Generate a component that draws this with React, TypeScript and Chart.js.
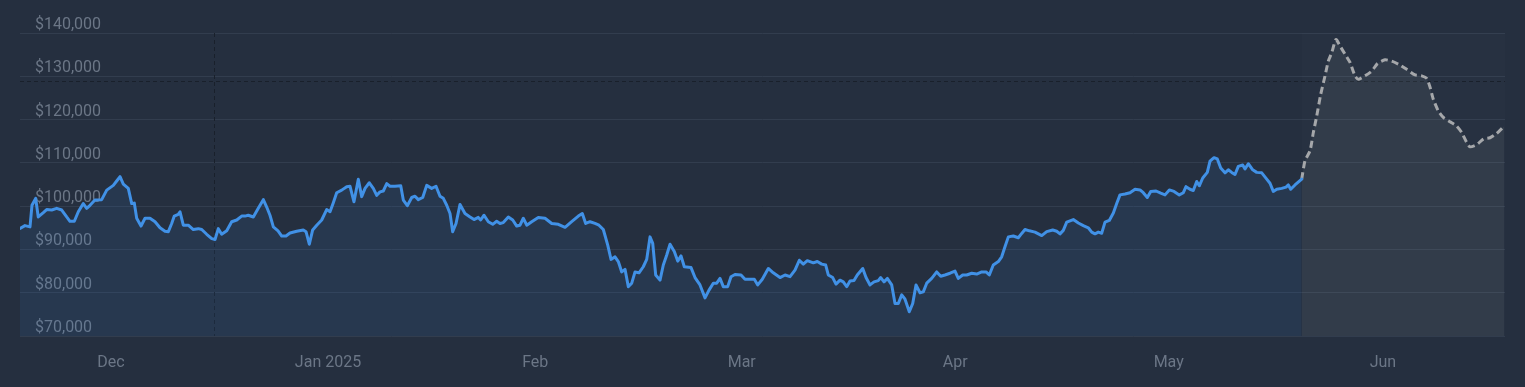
import React, { useEffect, useRef } from "react";
import { Chart, registerables } from "chart.js";

Chart.register(...registerables);

// Day offsets from the first sample (Nov 18) and BTC price (USD)
const PRICE_SERIES: [number, number][] = [
  [0, 94850], [0.71, 95500], [1.43, 95200], [1.71, 100200], [2.24, 101800], [2.61, 97500],
  [3.33, 98500], [3.81, 99200], [4.53, 99100], [5.24, 99500], [5.96, 99100], [6.67, 97500],
  [7.14, 96500], [7.76, 96500], [8.33, 98700], [9.04, 100600], [9.53, 99500], [10, 100200],
  [10.71, 101400], [11.67, 101500], [12.39, 103700], [13.33, 104800], [13.81, 105800], [14.29, 106800],
  [14.76, 105100], [15.47, 104100], [15.96, 100600], [16.33, 100700], [16.67, 97200], [17.29, 95400],
  [17.86, 97200], [18.57, 97200], [19.29, 96400], [20, 95000], [20.71, 94200], [21.19, 94100],
  [21.67, 96000], [22.04, 97700], [22.61, 98100], [22.86, 98700], [23.33, 95600], [24.04, 95600],
  [24.76, 94600], [25.47, 94800], [25.96, 94600], [26.67, 93500], [27.39, 92500], [27.86, 92300],
  [28.33, 94800], [28.81, 93500], [29.53, 94300], [30.24, 96400], [30.96, 96800], [31.67, 97700],
  [32.14, 97700], [32.61, 97900], [33.33, 97500], [34.04, 99500], [34.76, 101500], [35.24, 99800],
  [35.71, 97900], [36.19, 95200], [36.86, 94300], [37.39, 93100], [38, 93100], [38.57, 93800],
  [39.53, 94200], [40.47, 94500], [40.86, 94100], [41.33, 91200], [41.81, 94500], [42.39, 95600],
  [43.1, 96800], [43.81, 99200], [44.29, 98700], [44.76, 100800], [45.24, 103100], [45.96, 103700],
  [46.67, 104500], [47.14, 104600], [47.71, 101000], [48.33, 106200], [48.81, 102200], [49.29, 104100],
  [49.9, 105400], [50.47, 104100], [50.96, 102500], [51.43, 103300], [51.9, 103500], [52.39, 105200],
  [52.86, 104600], [53.57, 104600], [54.39, 104700], [54.76, 101400], [55.33, 100100], [55.96, 102000],
  [56.43, 102300], [56.9, 101500], [57.53, 102000], [58.1, 104800], [58.81, 104100], [59.43, 104600],
  [60, 102300], [60.47, 101800], [60.96, 100200], [61.43, 98300], [61.81, 94100], [62.29, 96000],
  [62.86, 100400], [63.57, 98300], [64.29, 97500], [64.86, 96900], [65.47, 97400], [65.81, 96800],
  [66.29, 97900], [66.9, 96400], [67.53, 95800], [68.1, 96500], [68.57, 96000], [69.04, 96200],
  [69.76, 97500], [70.39, 96800], [70.96, 95400], [71.43, 95600], [71.9, 97200], [72.39, 95600],
  [73.1, 96400], [74.04, 97400], [75, 97200], [75.96, 96000], [76.9, 95800], [77.86, 95100],
  [78.81, 96400], [79.76, 97700], [80.33, 98300], [80.81, 96000], [81.43, 96400], [82.14, 96000],
  [82.71, 95600], [83.33, 94600], [83.96, 91000], [84.43, 87700], [85, 88300], [85.47, 87200],
  [85.96, 84800], [86.43, 85400], [86.9, 81400], [87.39, 82200], [87.86, 84800], [88.43, 84600],
  [89.04, 86000], [89.53, 87700], [90, 92900], [90.39, 91400], [90.81, 84100], [91.43, 82900],
  [91.9, 86400], [92.39, 88700], [92.86, 91200], [93.47, 89500], [93.96, 87300], [94.43, 88500],
  [94.9, 86000], [95.86, 85800], [96.43, 83500], [97.14, 81800], [97.86, 78800], [98.43, 80600],
  [99.04, 82200], [99.53, 82200], [100, 83300], [100.47, 81400], [101.1, 81400], [101.57, 83700],
  [102.14, 84200], [103, 84100], [103.57, 83100], [104.29, 83100], [104.9, 83100], [105.39, 81800],
  [106.04, 83100], [106.9, 85600], [107.61, 84600], [108.57, 83500], [109.29, 84100], [110, 83700],
  [110.71, 85200], [111.33, 87500], [111.9, 86600], [112.47, 87400], [113.33, 86900], [113.9, 87200],
  [114.53, 86600], [115.1, 86400], [115.47, 84100], [116.1, 83500], [116.57, 82000], [117.14, 82900],
  [117.61, 82500], [118.1, 81400], [118.57, 82700], [119.14, 82800], [119.61, 84100], [120.39, 85600],
  [120.86, 83500], [121.43, 81800], [122, 82500], [122.61, 82800], [122.96, 83500], [123.43, 82500],
  [123.9, 83300], [124.53, 81800], [125, 77500], [125.47, 77500], [125.96, 79500], [126.43, 78500],
  [127.04, 75600], [127.53, 77500], [128, 81800], [128.57, 80000], [129.04, 80200], [129.53, 82200],
  [130.24, 83300], [130.96, 84800], [131.53, 83800], [132.14, 84100], [132.86, 84500], [133.57, 85000],
  [134.04, 83300], [134.67, 84100], [135.24, 84100], [135.96, 84500], [136.67, 84300], [137.39, 84800],
  [138, 84800], [138.47, 84100], [139.04, 86400], [139.76, 87200], [140.24, 88300], [140.71, 90600],
  [141.19, 92900], [141.9, 93100], [142.61, 92700], [143.1, 93700], [143.57, 94600], [144.19, 94300],
  [145, 94000], [145.96, 93200], [146.67, 94100], [147.53, 94500], [148.1, 94200], [148.57, 93600],
  [149.04, 94400], [149.53, 96300], [150.47, 96900], [151.19, 96100], [151.9, 95500], [152.61, 95000],
  [153.1, 94000], [153.57, 93600], [154.04, 94000], [154.53, 93750], [155, 96300], [155.61, 96700],
  [156.19, 98400], [156.67, 100600], [157.14, 102600], [157.86, 102800], [158.57, 103100], [159.29, 103900],
  [160, 103750], [160.47, 103100], [161.04, 102000], [161.53, 103400], [162.29, 103500], [162.96, 103000],
  [163.57, 102600], [164.19, 103750], [164.86, 103400], [165.61, 102600], [166.19, 103100], [166.57, 104500],
  [167.14, 103900], [167.61, 103600], [168.1, 105700], [168.47, 104700], [168.96, 106500], [169.61, 107800],
  [170, 110400], [170.57, 111200], [171.04, 110900], [171.53, 108800], [172.14, 107700], [172.61, 108400],
  [173.1, 107800], [173.57, 107300], [174.04, 109200], [174.67, 109500], [175, 108600], [175.47, 109800],
  [176.1, 108400], [176.67, 107800], [177.39, 107700], [178.1, 106250], [178.57, 105300], [179.04, 103400],
  [179.53, 103900], [180.24, 104100], [180.86, 104400], [181.19, 104900], [181.53, 103900], [182.14, 104900],
  [183.1, 106250],
];

const FORECAST_SERIES: [number, number][] = [
  [183.1, 106250], [183.57, 110500], [184.29, 112800], [184.76, 117000], [185.24, 120800], [185.81, 125800],
  [186.43, 130100], [186.9, 133500], [187.39, 135500], [188, 138500], [188.57, 137000], [189.29, 135100],
  [190, 133200], [190.71, 130100], [191.19, 129300], [192.14, 130100], [193.1, 131200], [193.9, 132900],
  [195, 133800], [195.96, 133500], [196.9, 132800], [198.1, 131600], [199.29, 130300], [200.24, 130100],
  [200.96, 129500], [201.43, 127500], [201.9, 124700], [202.61, 122000], [203.33, 120500], [204.29, 119500],
  [205.24, 118500], [205.96, 117000], [206.67, 114700], [207.14, 113700], [208.1, 114200], [209.05, 115500],
  [210, 115800], [210.96, 116800], [212.04, 118500],
];

const X_TICK_DAYS = [13, 44, 73.6, 103.1, 133.6, 164.1, 194.7];
const X_TICK_LABELS = ["Dec", "Jan 2025", "Feb", "Mar", "Apr", "May", "Jun"];
const X_MAX_DAY = 212.14;
const Y_MIN = 70000;
const Y_MAX = 140000;
const Y_STEP = 10000;
const CROSSHAIR_DAY = 27.71;
const CROSSHAIR_PRICE = 129000;
const FORECAST_START_DAY = 183.1;

const BG = "#252f3f";
const LABEL = "#6b7686";
const GRID = "#323d4e";

const overlayPlugin = {
  id: "overlayPlugin",
  beforeDatasetsDraw(chart: any) {
    const { ctx, chartArea, scales } = chart;
    const x = scales.x;
    const y = scales.y;
    ctx.save();
    // forecast region tint
    const fx = x.getPixelForValue(FORECAST_START_DAY);
    ctx.fillStyle = "rgba(255,255,255,0.012)";
    ctx.fillRect(fx, chartArea.top, chartArea.right - fx, chartArea.bottom - chartArea.top);
    // crosshair
    ctx.strokeStyle = "#19202b";
    ctx.lineWidth = 1;
    ctx.setLineDash([4, 3]);
    const cx = Math.round(x.getPixelForValue(CROSSHAIR_DAY)) + 0.5;
    const cy = Math.round(y.getPixelForValue(CROSSHAIR_PRICE)) + 0.5;
    ctx.beginPath();
    ctx.moveTo(cx, chartArea.top);
    ctx.lineTo(cx, chartArea.bottom);
    ctx.moveTo(chartArea.left, cy);
    ctx.lineTo(chartArea.right, cy);
    ctx.stroke();
    ctx.restore();
  },
};

export default function App() {
  const ref = useRef<HTMLCanvasElement | null>(null);

  useEffect(() => {
    document.body.style.margin = "0";
    document.body.style.background = BG;
    Chart.defaults.font.family = "Roboto";
    const chart = new Chart(ref.current as HTMLCanvasElement, {
      type: "line",
      data: {
        datasets: [
          {
            data: PRICE_SERIES.map(([d, p]) => ({ x: d, y: p })),
            borderColor: "#4191e6",
            borderWidth: 3,
            borderJoinStyle: "round",
            borderCapStyle: "round",
            pointRadius: 0,
            tension: 0,
            fill: "start",
            backgroundColor: "rgba(60,140,230,0.10)",
          },
          {
            data: FORECAST_SERIES.map(([d, p]) => ({ x: d, y: p })),
            borderColor: "#a5a7aa",
            borderWidth: 3,
            borderDash: [7, 4],
            pointRadius: 0,
            tension: 0.2,
            fill: "start",
            backgroundColor: "rgba(170,175,180,0.09)",
          },
        ],
      },
      options: {
        animation: false,
        responsive: true,
        maintainAspectRatio: false,
        events: [],
        layout: { padding: { left: 20, right: 20, top: 33, bottom: 0 } },
        plugins: { legend: { display: false }, tooltip: { enabled: false } },
        scales: {
          x: {
            type: "linear",
            min: 0,
            max: X_MAX_DAY,
            grid: { display: false, drawTicks: false },
            border: { display: false },
            afterBuildTicks: (scale: any) => {
              scale.ticks = X_TICK_DAYS.map((v) => ({ value: v }));
            },
            afterFit: (scale: any) => {
              scale.height = 51;
            },
            ticks: {
              autoSkip: false,
              maxRotation: 0,
              color: LABEL,
              font: { size: 16 },
              padding: 17,
              callback: (_v: any, i: number) => X_TICK_LABELS[i],
            },
          },
          y: {
            min: Y_MIN,
            max: Y_MAX,
            grid: { color: GRID, lineWidth: 1, drawTicks: false },
            border: { display: false },
            afterFit: (scale: any) => {
              scale.width = 0;
            },
            ticks: {
              stepSize: Y_STEP,
              mirror: true,
              padding: 15,
              labelOffset: -8,
              color: LABEL,
              font: { size: 16 },
              callback: (v: any) => "$" + Number(v).toLocaleString("en-US"),
            },
          },
        },
      },
      plugins: [overlayPlugin],
    });
    return () => chart.destroy();
  }, []);

  return (
    <div style={{ position: "fixed", left: 0, top: 0, width: 1525, height: 387, background: BG }}>
      <canvas ref={ref} />
    </div>
  );
}
